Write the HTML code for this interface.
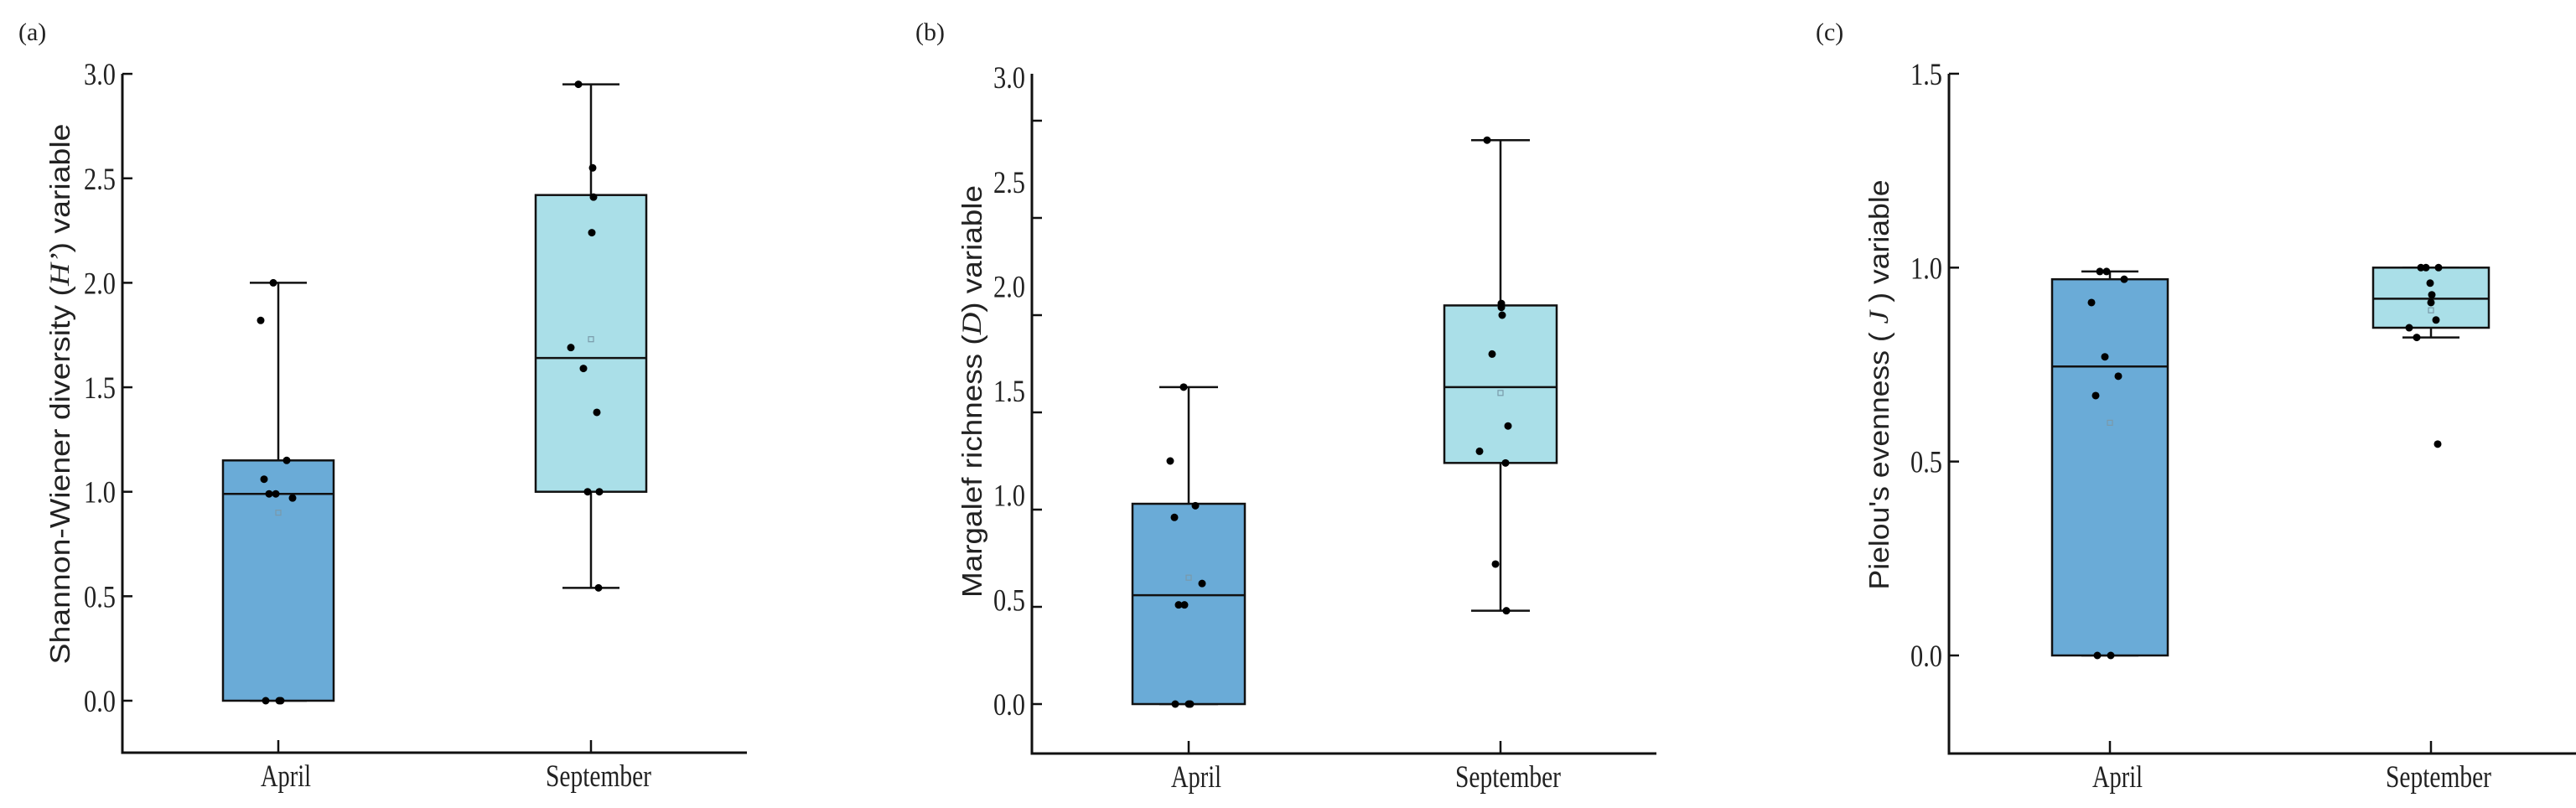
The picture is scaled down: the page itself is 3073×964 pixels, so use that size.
<!DOCTYPE html>
<html><head><meta charset="utf-8"><style>
html,body{margin:0;padding:0;background:#fff;}
svg{display:block;}
</style></head><body>
<svg id="fig" width="3073" height="964" viewBox="0 0 3073 964" xmlns="http://www.w3.org/2000/svg"></svg>
<script>
// ---- data ----
const categories = ["April", "September"];
// panel a: Shannon-Wiener
const aAprilPts = [2.0, 1.82, 1.15, 1.06, 0.99, 0.99, 0.97, 0, 0, 0];
const aSepPts = [2.95, 2.55, 2.41, 2.24, 1.69, 1.59, 1.38, 1.0, 1.0, 0.54];
const aAprilBox = [0, 0, 0.99, 1.15, 2.0]; // lowWhisker, q1, median, q3, highWhisker
const aSepBox = [0.54, 1.0, 1.64, 2.42, 2.95];
const aMeans = [0.90, 1.73];
const aTicks = [0, 0.5, 1.0, 1.5, 2.0, 2.5, 3.0];
const aTickLabels = ["0.0", "0.5", "1.0", "1.5", "2.0", "2.5", "3.0"];
// panel b: Margalef
const bAprilPts = [1.63, 1.25, 1.02, 0.96, 0.62, 0.51, 0.51, 0, 0, 0];
const bSepPts = [2.90, 2.06, 2.04, 2.00, 1.80, 1.43, 1.30, 1.24, 0.72, 0.48];
const bAprilBox = [0, 0, 0.56, 1.03, 1.63];
const bSepBox = [0.48, 1.24, 1.63, 2.05, 2.90];
const bMeans = [0.65, 1.60];
const bTicks = [0, 0.5, 1.0, 1.5, 2.0, 2.5, 3.0];
const bTickLabels = ["0.0", "0.5", "1.0", "1.5", "2.0", "2.5", "3.0"];
// panel c: Pielou
const cAprilPts = [0.99, 0.99, 0.97, 0.91, 0.77, 0.72, 0.67, 0, 0];
const cSepPts = [1.0, 1.0, 1.0, 0.96, 0.93, 0.91, 0.865, 0.845, 0.82, 0.545];
const cAprilBox = [0, 0, 0.745, 0.97, 0.99];
const cSepBox = [0.82, 0.845, 0.92, 1.0, 1.0];
const cMeans = [0.60, 0.89];
const cTicks = [0, 0.5, 1.0, 1.5];
const cTickLabels = ["0.0", "0.5", "1.0", "1.5"];

// jitter (horizontal scatter, visual only)
const jit = {
  aA: [-6,-21,10,-17,-11,-3,17,-15,1,3], aS: [-15,2,3,1,-24,-9,7,-4,10,9],
  bA: [-6,-22,8,-17,16,-12,-5,-16,0,2], bS: [-16,1,1,2,-10,9,-25,6,-6,7],
  cA: [-12,-4,17,-22,-6,10,-17,-15,1], cS: [-12,-6,9,-1,1,0,6,-26,-17,8]
};

const NS = "http://www.w3.org/2000/svg";
const svg = document.getElementById('fig');
function mk(tag, attrs, parent, text){
  const e = document.createElementNS(NS, tag);
  for (const k in attrs) e.setAttribute(k, attrs[k]);
  if (text !== undefined) e.textContent = text;
  (parent || svg).appendChild(e);
  return e;
}
const SERIF = '"Liberation Serif", serif';
const SANS = '"Liberation Sans", sans-serif';
const colors = ["#6aabd7", "#aadfe8"];

function panel(p){
  const g = mk('g', {});
  
  
  const y = v => p.y0 - v * p.unit;
  const yl = p.labelUnit ? (v => p.y0 - v * p.labelUnit) : y;
  const x = i => p.centers[i];
  // axes
  const ax = mk('path', {d:`M${p.axX},${p.axTop} V${p.axBottom} H${p.axRight}`, fill:'none', stroke:'#111', 'stroke-width':3}, g);
  
  
  p.ticks.forEach((t, i) => {
    const tk = mk('line', {x1:p.axX, x2:p.axX+12, y1:y(t), y2:y(t), stroke:'#111', 'stroke-width':2.5}, g);
    
    
    const lb = mk('text', {x:p.axX-8, y:yl(t)+13, 'text-anchor':'end', 'font-family':SERIF, 'font-size':37, fill:'#222', textLength:38, lengthAdjust:'spacingAndGlyphs'}, g, p.labels[i]);
    
    
  });
  categories.forEach((c, i) => {
    const tk = mk('line', {x1:x(i), x2:x(i), y1:p.axBottom, y2:p.axBottom-15, stroke:'#111', 'stroke-width':2.5}, g);
    
    
    const w = c === 'April' ? 60 : 126;
    const lb = mk('text', {x:x(i)+9, y:p.axBottom+40, 'text-anchor':'middle', 'font-family':SERIF, 'font-size':37, fill:'#222', textLength:w, lengthAdjust:'spacingAndGlyphs'}, g, c);
    
    
  });
  // title
  const tt = mk('text', {x:0, y:0, transform:`translate(${p.titleX},${p.titleY}) rotate(-90)`, 'text-anchor':'middle', 'dominant-baseline':'middle', 'font-family':SANS, 'font-size':33, fill:'#222', textLength:p.titleLen, lengthAdjust:'spacingAndGlyphs'}, g);
  
  
  p.title.forEach(part => {
    const s = mk('tspan', part.italic ? {'font-style':'italic','font-family':SERIF} : {}, tt, part.t);
  });
  const pl = mk('text', {x:p.labX, y:48, 'font-family':SERIF, 'font-size':30, fill:'#222'}, g, p.panelLabel);
  
  
  // boxes
  [p.boxA, p.boxS].forEach((b, i) => {
    const cx = x(i), hw = p.halfW, cw = p.capW;
    const wk = mk('path', {d:`M${cx},${y(b[0])} V${y(b[1])} M${cx},${y(b[3])} V${y(b[4])} M${cx-cw},${y(b[0])} H${cx+cw} M${cx-cw},${y(b[4])} H${cx+cw}`, stroke:'#111', 'stroke-width':2.5, fill:'none'}, g);
    
    
    const bx = mk('rect', {x:cx-hw, y:y(b[3]), width:hw*2, height:Math.max(0.1, y(b[1])-y(b[3])), fill:colors[i], stroke:'#111', 'stroke-width':2.5}, g);
    
    
    const md = mk('line', {x1:cx-hw, x2:cx+hw, y1:y(b[2]), y2:y(b[2]), stroke:'#111', 'stroke-width':2.5}, g);
    
    
    const mn = mk('rect', {x:cx-3, y:y(p.means[i])-3, width:6, height:6, fill:'none', stroke:'#7a9aaa', 'stroke-width':1.2}, g);
    
    
  });
  [[p.ptsA, p.jA], [p.ptsS, p.jS]].forEach((pair, i) => {
    pair[0].forEach((v, k) => {
      const d = mk('circle', {cx:x(i)+pair[1][k], cy:y(v), r:4.5, fill:'#000'}, g);
      
      
    });
  });
}

panel({name:'panel-a-shannon', y0:836, unit:249.3, axX:146, axTop:88, axBottom:898, axRight:891,
  centers:[332,705], halfW:66, capW:34, ticks:aTicks, labels:aTickLabels,
  boxA:aAprilBox, boxS:aSepBox, means:aMeans, ptsA:aAprilPts, ptsS:aSepPts, jA:jit.aA, jS:jit.aS,
  titleX:74, titleY:470, titleLen:645, panelLabel:'(a)', labX:22,
  title:[{t:'Shannon-Wiener diversity ('},{t:'H\u2019',italic:true},{t:') variable'}]});

panel({name:'panel-b-margalef', y0:840, unit:232, labelUnit:249.3, axX:1231, axTop:88, axBottom:899, axRight:1976,
  centers:[1418,1790], halfW:67, capW:35, ticks:bTicks, labels:bTickLabels,
  boxA:bAprilBox, boxS:bSepBox, means:bMeans, ptsA:bAprilPts, ptsS:bSepPts, jA:jit.bA, jS:jit.bS,
  titleX:1162, titleY:467, titleLen:492, panelLabel:'(b)', labX:1092,
  title:[{t:'Margalef richness ('},{t:'D',italic:true},{t:') variable'}]});

panel({name:'panel-c-pielou', y0:782, unit:462.7, axX:2325, axTop:88, axBottom:899, axRight:3073,
  centers:[2517,2900], halfW:69, capW:34, ticks:cTicks, labels:cTickLabels,
  boxA:cAprilBox, boxS:cSepBox, means:cMeans, ptsA:cAprilPts, ptsS:cSepPts, jA:jit.cA, jS:jit.cS,
  titleX:2244, titleY:459, titleLen:489, panelLabel:'(c)', labX:2166,
  title:[{t:'Pielou\'s evenness ( '},{t:'J',italic:true},{t:' )  variable'}]});
</script>
</body></html>
